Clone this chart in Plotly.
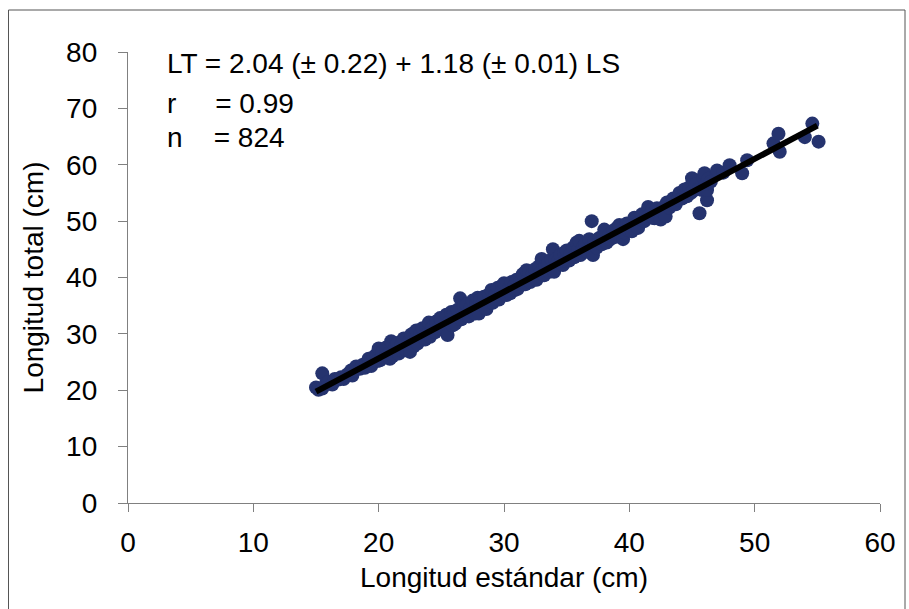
import plotly.graph_objects as go

# Longitud estándar (LS, cm)
LS = [
    15.0, 15.2, 15.5, 15.5, 15.8,
    16.0, 16.3, 16.5, 16.8,
    17.0, 17.2, 17.5, 17.8, 17.9,
    18.0, 18.2, 18.5, 18.7, 18.9,
    19.0, 19.2, 19.4, 19.6, 19.8, 19.9,
    20.0, 20.1, 20.3, 20.5, 20.6, 20.8, 20.9,
    21.0, 21.1, 21.3, 21.5, 21.6, 21.8, 21.9,
    22.0, 22.2, 22.4, 22.6, 22.8, 22.9, 22.5,
    23.0, 23.1, 23.3, 23.5, 23.7, 23.8, 23.9,
    24.0, 24.1, 24.3, 24.5, 24.6, 24.8, 24.9,
    25.0, 25.2, 25.4, 25.5, 25.6, 25.8, 25.9,
    26.0, 26.1, 26.3, 26.5, 26.6, 26.8, 26.9,
    27.0, 27.2, 27.3, 27.5, 27.7, 27.8, 27.9,
    28.0, 28.1, 28.3, 28.4, 28.6, 28.8, 28.9,
    29.0, 29.1, 29.3, 29.5, 29.6, 29.8, 29.9,
    30.0, 30.2, 30.4, 30.5, 30.6, 30.8, 30.9,
    31.0, 31.1, 31.3, 31.5, 31.7, 31.8, 31.9,
    32.0, 32.1, 32.3, 32.5, 32.6, 32.8, 32.9,
    33.0, 33.2, 33.3, 33.5, 33.6, 33.8, 33.9,
    34.0, 34.1, 34.3, 34.5, 34.7, 34.8, 34.9,
    35.0, 35.2, 35.3, 35.5, 35.6, 35.8, 35.9,
    36.0, 36.1, 36.3, 36.5, 36.6, 36.8, 36.9,
    37.0, 37.1, 37.2, 37.4, 37.6, 37.8, 37.9,
    38.0, 38.2, 38.4, 38.5, 38.7, 38.9,
    39.0, 39.2, 39.5, 39.6, 39.8, 39.9,
    40.0, 40.2, 40.4, 40.5, 40.7, 40.9,
    41.0, 41.2, 41.5, 41.6, 41.8, 41.9,
    42.0, 42.2, 42.5, 42.6, 42.8, 42.9,
    43.0, 43.2, 43.5, 43.7, 43.9,
    44.0, 44.2, 44.4, 44.6, 44.8, 44.9,
    45.0, 45.1, 45.3, 45.6, 45.6, 45.8, 45.9,
    46.0, 46.2, 46.2, 46.1, 46.3, 46.5,
    47.0, 47.5, 48.0, 49.0, 49.4, 51.5, 51.9, 52.0, 54.0, 54.6, 55.1,
]
# Longitud total (LT, cm)
LT = [
    20.5, 20.1, 23.0, 20.3, 21.2,
    21.5, 21.0, 22.0, 21.9,
    22.3, 22.0, 22.8, 23.5, 22.6,
    23.5, 24.2, 23.8, 24.5, 24.0,
    24.8, 25.6, 24.3, 25.9, 26.3, 25.2,
    27.4, 25.3, 26.8, 25.8, 27.6, 26.5, 25.6,
    28.7, 26.0, 27.6, 28.4, 26.5, 27.9, 27.0,
    29.2, 27.1, 28.6, 29.9, 27.8, 30.3, 26.8,
    30.6, 28.3, 29.9, 31.0, 29.0, 31.2, 30.0,
    32.0, 29.5, 31.2, 30.3, 32.2, 31.0, 32.8,
    32.5, 30.8, 33.4, 29.8, 32.0, 33.9, 31.5,
    33.8, 31.8, 34.3, 36.3, 32.6, 35.0, 33.4,
    35.2, 33.1, 34.5, 35.9, 33.6, 35.4, 36.4,
    33.6, 36.0, 35.3, 36.6, 34.4, 37.0, 35.6,
    37.8, 35.5, 36.9, 38.2, 36.1, 37.4, 38.6,
    39.0, 36.9, 38.0, 37.2, 39.2, 38.4, 37.8,
    39.6, 38.0, 39.2, 40.6, 38.8, 41.3, 39.5,
    41.0, 39.2, 40.6, 41.5, 39.6, 42.0, 40.8,
    43.3, 40.4, 42.0, 42.6, 41.0, 43.2, 45.0,
    41.0, 43.2, 42.8, 44.0, 42.2, 44.4, 43.0,
    44.8, 43.0, 44.2, 45.3, 43.6, 46.2, 44.9,
    46.5, 44.0, 45.4, 46.0, 44.6, 46.8, 45.2,
    50.0, 44.0, 46.5, 45.3, 47.0, 45.9, 47.4,
    48.5, 46.2, 47.6, 46.8, 48.3, 47.2,
    48.8, 49.3, 46.8, 48.0, 49.6, 48.4,
    49.5, 48.2, 50.6, 49.4, 48.8, 50.4,
    51.2, 50.0, 52.5, 51.0, 52.0, 50.6,
    50.5, 52.3, 50.3, 51.8, 52.6, 50.8,
    53.3, 52.4, 54.0, 53.0, 53.8,
    55.0, 54.0, 55.6, 54.4, 56.0, 55.0,
    57.6, 55.4, 56.6, 51.4, 55.8, 55.5, 57.8,
    58.5, 53.7, 55.5, 56.6, 57.5, 57.0,
    59.0, 58.6, 59.9, 58.5, 60.8, 63.8, 65.5, 62.3, 64.9, 67.3, 64.1,
]

# Regression LT = a + b * LS
intercept = 2.04
slope = 1.18
fit_x = [15, 55]
fit_y = [intercept + slope * v for v in fit_x]

annot_lines = [
    "LT = 2.04 (± 0.22) + 1.18 (± 0.01) LS",
    "r&nbsp;&nbsp;&nbsp;&nbsp; = 0.99",
    "n&nbsp;&nbsp;&nbsp; = 824",
]
annot_y = [77.9, 70.9, 64.9]

x_ticks = [0, 10, 20, 30, 40, 50, 60]
y_ticks = [0, 10, 20, 30, 40, 50, 60, 70, 80]

FONT = "Liberation Sans, Arial, sans-serif"
AXC = "#808080"
FS = 28

fig = go.Figure()
fig.add_trace(go.Scatter(
    x=LS, y=LT, mode="markers",
    marker=dict(size=14, color="#25336E", line=dict(width=0)),
    showlegend=False, hoverinfo="x+y",
))
fig.add_trace(go.Scatter(
    x=fit_x, y=fit_y, mode="lines",
    line=dict(color="black", width=6),
    showlegend=False,
))

for t, yy in zip(annot_lines, annot_y):
    fig.add_annotation(x=2.95, y=yy, xref="x", yref="y", text=t,
                       showarrow=False, xanchor="left", yanchor="middle",
                       font=dict(size=FS, color="black", family=FONT))

L, R, T, B = 128, 29, 52, 106
W, H = 909, 609
pw = W - L - R
ph = H - T - B
fig.add_shape(type="rect", xref="paper", yref="paper",
              x0=(8.5 - L) / pw, x1=(905 - L) / pw,
              y0=-(H + 5 - (T + ph)) / ph, y1=(T + ph - 10) / ph,
              line=dict(color="#555555", width=1), fillcolor="rgba(0,0,0,0)",
              layer="below")

fig.update_layout(
    width=W, height=H,
    margin=dict(l=L, r=R, t=T, b=B, autoexpand=False),
    paper_bgcolor="white", plot_bgcolor="white",
    font=dict(family=FONT, size=FS, color="black"),
    xaxis=dict(range=[0, 60], tickvals=x_ticks, showgrid=False, zeroline=False,
               showline=True, linecolor=AXC, linewidth=1.3, automargin=False,
               ticks="outside", ticklen=8, tickcolor=AXC, tickwidth=1.3,
               title=dict(text="Longitud estándar (cm)", standoff=10,
                          font=dict(size=FS)),
               tickfont=dict(size=FS), ticklabelstandoff=6),
    yaxis=dict(range=[0, 80], tickvals=y_ticks, showgrid=False, zeroline=False,
               showline=True, linecolor=AXC, linewidth=1.3, automargin=False,
               ticks="outside", ticklen=9, tickcolor=AXC, tickwidth=1.3,
               title=dict(text="Longitud total (cm)", standoff=14,
                          font=dict(size=FS)),
               tickfont=dict(size=FS), ticklabelstandoff=15),
)

fig.write_html("out.html", config={"displayModeBar": False},
               post_script="document.body.style.margin='0';")
